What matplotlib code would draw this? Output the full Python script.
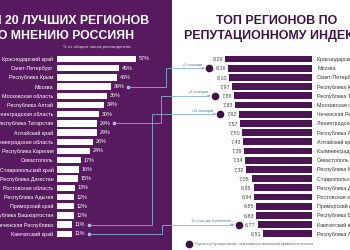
import numpy as np
import matplotlib
matplotlib.use('Agg')
import matplotlib.pyplot as plt
from matplotlib.patches import Rectangle
from matplotlib.transforms import offset_copy

plt.rcParams['font.family'] = ['Liberation Sans', 'DejaVu Sans']

# left: survey share
regions_l = ['Краснодарский край', 'Санкт-Петербург', 'Республика Крым', 'Москва',
             'Московская область', 'Республика Алтай', 'Ленинградская область',
             'Республика Татарстан', 'Алтайский край', 'Калининградская область',
             'Республика Карелия', 'Севастополь', 'Ставропольский край',
             'Республика Дагестан', 'Ростовская область', 'Республика Адыгея',
             'Приморский край', 'Республика Башкортостан', 'Чеченская Республика',
             'Камчатский край']
share_l = [57, 45, 43, 39, 36, 34, 30, 29, 29, 26, 24, 17, 16, 15, 13, 12, 12, 12, 11, 11]

# right: reputation index
regions_r = ['Краснодарский край', 'Москва', 'Санкт-Петербург', 'Республика Крым',
             'Республика Татарстан', 'Московская область', 'Чеченская Республика',
             'Ленинградская область', 'Республика Алтай', 'Алтайский край',
             'Калининградская область', 'Севастополь', 'Республика Карелия',
             'Ставропольский край', 'Республика Дагестан', 'Ростовская область',
             'Приморский край', 'Республика Башкортостан', 'Камчатский край',
             'Республика Адыгея']
index_r = [8.29, 8.16, 8.10, 7.97, 7.88, 7.83, 7.62, 7.57, 7.50, 7.43,
           7.39, 7.34, 7.32, 7.05, 6.95, 6.94, 6.85, 6.83, 6.77, 6.51]

# highlighted regions and their notes
link_regions = ['Москва', 'Республика Татарстан', 'Чеченская Республика', 'Камчатский край']
link_notes = ['+2 позиции', '+3 позиции', '+12 позиций', '11 позиция в рейтинге']
link_xs = [166, 161, 152, 162]

purple = '#581a5e'
bar_purple = '#4b1452'
dot_purple = '#3d0f45'
link_blue = '#7db4d6'

W, H = 350, 250
fig = plt.figure(figsize=(W / 100, H / 100), dpi=100)
fig.patch.set_facecolor('white')

bg = fig.add_axes([0, 0, 1, 1])
bg.set_xlim(0, W)
bg.set_ylim(H, 0)
bg.axis('off')
bg.add_patch(Rectangle((0, 0), 172, H, color=purple, lw=0))

row0, step = 59, 9.2
n = len(regions_l)
top = row0 - step / 2
ax_h = n * step
bottom = H - top - ax_h

# left axes
ax_l = fig.add_axes([57 / W, bottom / H, 80 * 1.386 / W, ax_h / H])
ax_l.set_facecolor('none')
y = np.arange(n)
bars_l = ax_l.barh(y, share_l, height=0.68, color='white')
ax_l.set_xlim(0, 80)
ax_l.set_ylim(n - 0.5, -0.5)
ax_l.set_yticks(y, labels=regions_l)
ax_l.tick_params(axis='y', length=0, pad=2.6, labelsize=3.9, labelcolor='white')
ax_l.set_xticks([])
for s in ax_l.spines.values():
    s.set_visible(False)
ax_l.bar_label(bars_l, labels=[f'{v}%' for v in share_l], padding=2,
               color='white', fontsize=3.9)

# right axes
sc = 21.35
ax_r = fig.add_axes([(312 - 4.78 * sc) / W, bottom / H, 4.78 * sc / W, ax_h / H])
ax_r.set_facecolor('none')
bars_r = ax_r.barh(y, index_r, height=0.72, color=bar_purple)
ax_r.set_xlim(9.0, 4.22)
ax_r.set_ylim(n - 0.5, -0.5)
ax_r.yaxis.tick_right()
ax_r.set_yticks(y, labels=regions_r)
ax_r.tick_params(axis='y', length=0, pad=3.6, labelsize=3.9, labelcolor='#333333')
ax_r.set_xticks([])
for s in ax_r.spines.values():
    s.set_visible(False)
ax_r.bar_label(bars_r, labels=[f'{v:.2f}'.replace('.', ',') for v in index_r],
               padding=1.5, color='#444444', fontsize=3.9)

# titles
bg.text(62, 24, 'ТОП 20 ЛУЧШИХ РЕГИОНОВ', color='white', fontsize=8.8,
        fontweight='bold', ha='center', va='baseline')
bg.text(62, 39, 'ПО МНЕНИЮ РОССИЯН', color='white', fontsize=8.8,
        fontweight='bold', ha='center', va='baseline')
bg.text(97, 47, '% от общего числа респондентов', color='#e8dcea', fontsize=3.2,
        ha='center', va='center')
bg.text(277, 24, 'ТОП РЕГИОНОВ ПО', color='#3f1246', fontsize=8.9,
        fontweight='bold', ha='center', va='baseline')
bg.text(277, 39, 'РЕПУТАЦИОННОМУ ИНДЕКСУ', color='#3f1246', fontsize=8.9,
        fontweight='bold', ha='center', va='baseline')

inv = bg.transData.inverted()


def to_bg(ax, xv, yv, dx=0):
    px, py = ax.transData.transform((xv, yv))
    return inv.transform((px + dx, py))


# connectors
for name, note, xv in zip(link_regions, link_notes, link_xs):
    il = regions_l.index(name)
    ir = regions_r.index(name)
    x0, y0 = to_bg(ax_l, share_l[il], il, 17)
    xd, y1 = to_bg(ax_r, index_r[ir], ir, -19)
    bg.plot([x0], [y0], 'o', ms=2.2, color=link_blue, mec='white', mew=0.3)
    bg.plot([x0, xv, xv, xd - 7], [y0, y0, y1, y1], color=link_blue, lw=0.6)
    bg.annotate('', xy=(xd - 4, y1), xytext=(xd - 8, y1),
                arrowprops=dict(arrowstyle='-|>', color=link_blue, lw=0.6,
                                mutation_scale=3, shrinkA=0, shrinkB=0))
    bg.plot([xd], [y1], 'o', ms=4.5, color=dot_purple)
    bg.text(xd - 7, y1 - 2.5, note, fontsize=2.8, color='#4f7d99',
            ha='right', va='baseline')

# footnote
bg.plot([189], [244], 'o', ms=4.5, color=dot_purple)
bg.text(195, 244.5, 'Оценка репутации выше, чем макрорегиональной привлекательности',
        fontsize=2.6, color='#666666', ha='left', va='center')

fig.savefig('out.png', dpi=100)
